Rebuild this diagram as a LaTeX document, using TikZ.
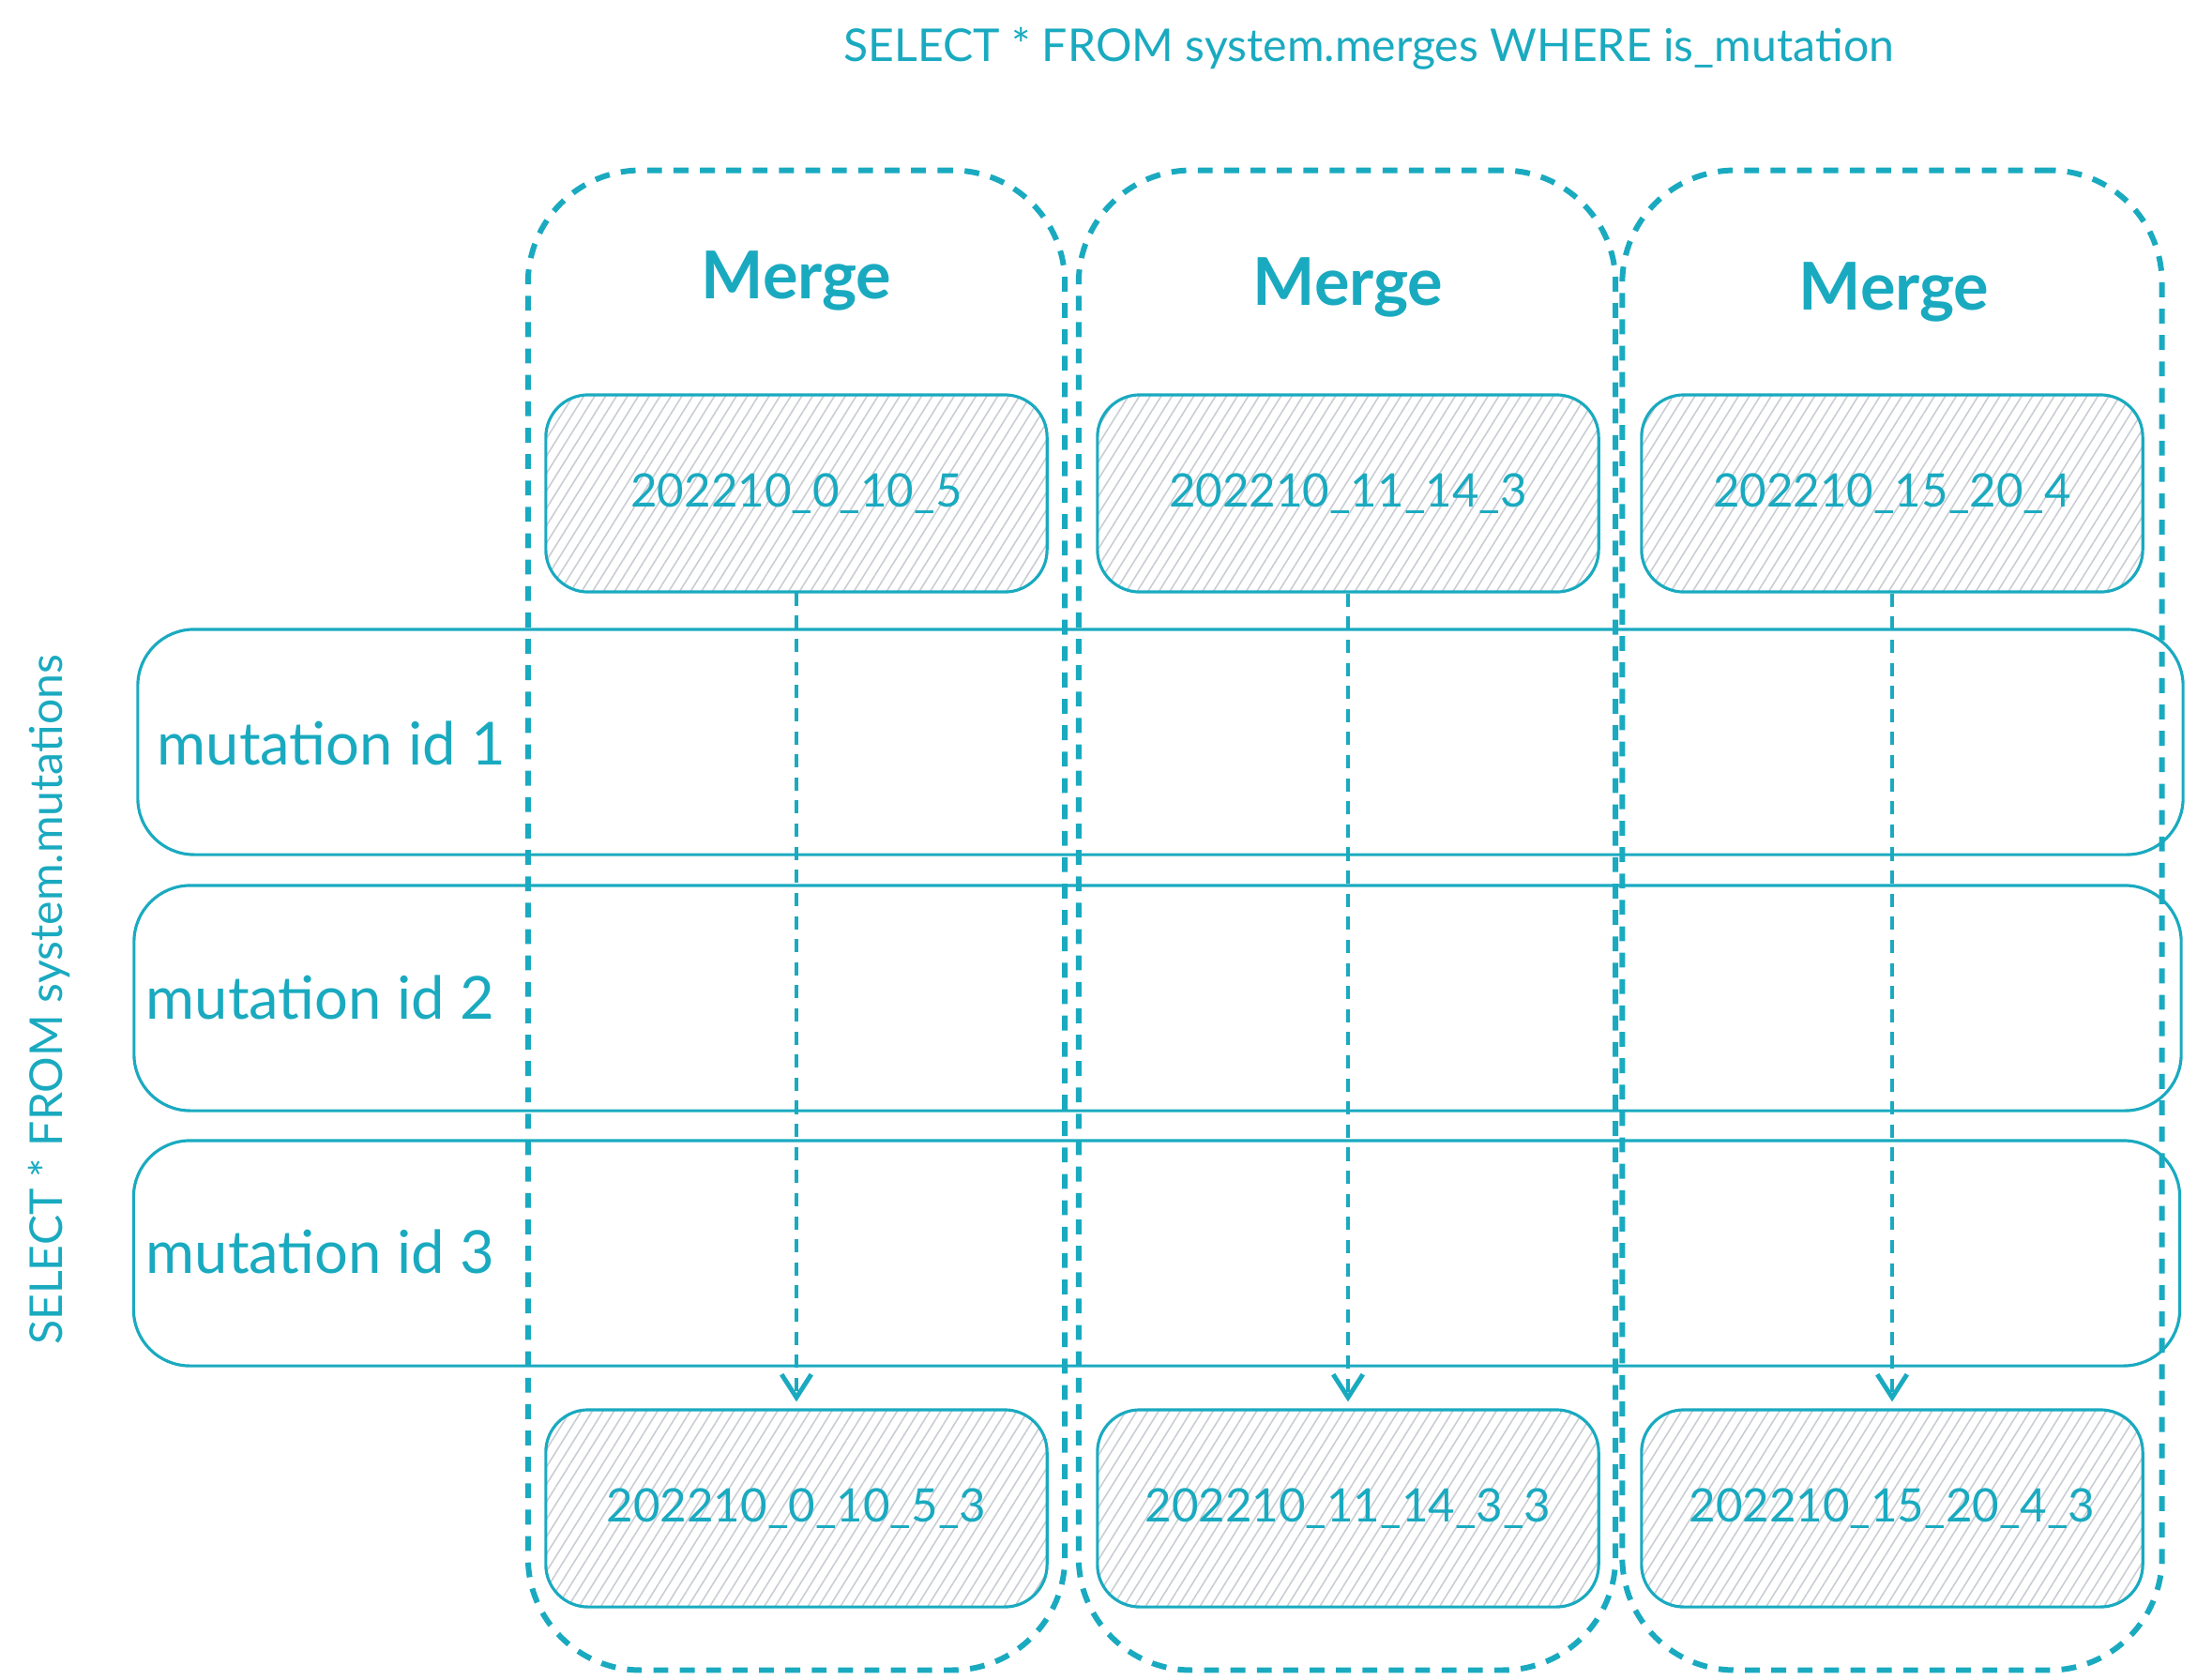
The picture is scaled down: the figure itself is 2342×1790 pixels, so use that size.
\documentclass[tikz,border=0pt]{standalone}
\usepackage{fontspec}
\setmainfont{Lato}
\usetikzlibrary{arrows.meta,patterns.meta}
\definecolor{teal1}{HTML}{1AAAC0}
\definecolor{hatch}{HTML}{C9CDD3}
\begin{document}
\begin{tikzpicture}[x=0.01cm,y=-0.01cm,
  colbox/.style={draw=teal1,line width=1.7pt,dash pattern=on 4.5pt off 3.5pt,rounded corners=1.2cm,minimum width=5.72cm,minimum height=15.98cm,inner sep=0pt},
  partbox/.style={draw=teal1,line width=0.9pt,rounded corners=0.45cm,minimum width=5.34cm,minimum height=2.1cm,inner sep=0pt,
     pattern={Lines[angle=58,distance=2.8pt,line width=0.45pt]},pattern color=hatch,
     text=teal1,font=\fontsize{14}{16}\selectfont},
  mutbox/.style={draw=teal1,line width=0.9pt,rounded corners=0.6cm,minimum width=21.8cm,minimum height=2.4cm,inner sep=0pt},
  mutlabel/.style={anchor=west,text=teal1,inner sep=0pt,font=\fontsize{18}{21}\selectfont},
  mergelabel/.style={text=teal1,inner sep=0pt,font=\fontsize{20}{24}\selectfont\bfseries},
  query/.style={text=teal1,inner sep=0pt,font=\fontsize{13.7}{16}\selectfont},
  arr/.style={draw=teal1,line width=1.4pt,dash pattern=on 4pt off 3pt,-{Straight Barb[length=7pt,width=9pt,line width=1.4pt]}}
]
\useasboundingbox (0,0) rectangle (2342,1790);
% columns
\node[colbox] (c1) at (849,981) {};
\node[colbox] (c2) at (1436,981) {};
\node[colbox,minimum width=5.75cm] (c3) at (2017,981) {};
% titles
\node[mergelabel] (m1) at (849,299) {Merge};
\node[mergelabel] (m2) at (1437,306) {Merge};
\node[mergelabel] (m3) at (2019,311) {Merge};
% parts
\node[partbox] (p1) at (849,526) {202210\_0\_10\_5};
\node[partbox] (p2) at (1437,526) {202210\_11\_14\_3};
\node[partbox] (p3) at (2017,526) {202210\_15\_20\_4};
\node[partbox] (q1) at (849,1608) {202210\_0\_10\_5\_3};
\node[partbox] (q2) at (1437,1608) {202210\_11\_14\_3\_3};
\node[partbox] (q3) at (2017,1608) {202210\_15\_20\_4\_3};
% mutation rows
\node[mutbox,minimum width=21.79cm] (r1) at (1237,791) {};
\node[mutbox,minimum width=21.81cm] (r2) at (1234,1064) {};
\node[mutbox,minimum width=21.80cm] (r3) at (1233,1336) {};
\node[mutlabel] (t1) at (167,792) {mutation id 1};
\node[mutlabel] (t2) at (155,1063) {mutation id 2};
\node[mutlabel] (t3) at (155,1334) {mutation id 3};
% queries
\node[query] (qa) at (1459,52) {SELECT * FROM system.merges WHERE is\_mutation};
\node[query,rotate=90] (qb) at (52,1066) {SELECT * FROM system.mutations};
% arrows
\draw[arr] (p1.south) -- ([yshift=0.07cm]q1.north);
\draw[arr] (p2.south) -- ([yshift=0.07cm]q2.north);
\draw[arr] (p3.south) -- ([yshift=0.07cm]q3.north);
\end{tikzpicture}
\end{document}
